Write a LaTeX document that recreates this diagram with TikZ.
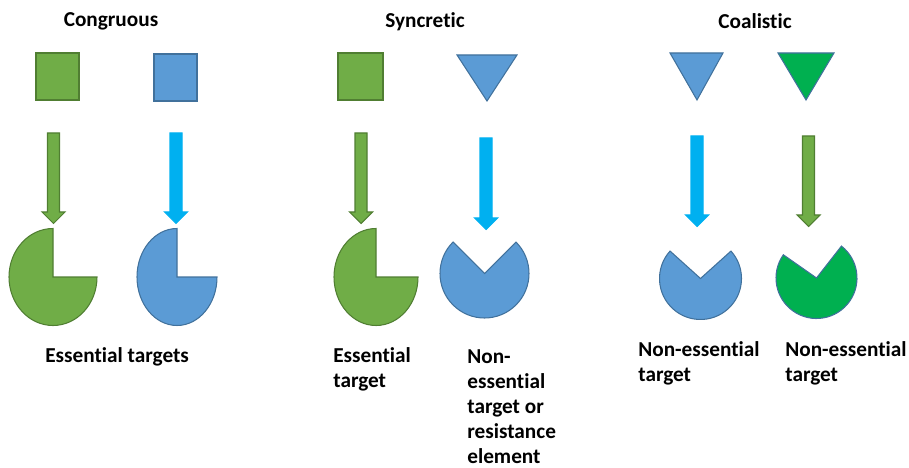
\documentclass[tikz,border=0pt]{standalone}
\usepackage{fontspec}
\setmainfont{Carlito}[Ligatures=NoCommon]

\definecolor{leafgreen}{HTML}{70AD47}
\definecolor{leafedge}{HTML}{507E32}
\definecolor{skyblue}{HTML}{5B9BD5}
\definecolor{skyedge}{HTML}{41719C}
\definecolor{arrowcyan}{HTML}{00B0F0}
\definecolor{jadegreen}{HTML}{00B050}

% block arrow: style, x of centre line, top y, y where the head starts
\newcommand{\blockarrow}[4]{%
    \filldraw[#1] (#2-6,#3) -- (#2+6,#3) -- (#2+6,#4) -- (#2+11.5,#4)
        -- (#2,#4-11.5) -- (#2-11.5,#4) -- (#2-6,#4) -- cycle;
}

\begin{document}
\begin{tikzpicture}[x=0.02cm, y=0.02cm,
    leaf/.style={fill=leafgreen, draw=leafedge, line width=0.6pt},
    sky/.style={fill=skyblue, draw=skyedge, line width=0.6pt},
    jade/.style={fill=jadegreen, draw=skyedge, line width=0.6pt},
    flow/.style={fill=arrowcyan, draw=arrowcyan, line width=0.6pt},
    headtext/.style={font=\fontsize{12.1}{14.2}\selectfont\bfseries, inner sep=0pt, anchor=base},
    targettext/.style={font=\fontsize{12.1}{14.2}\selectfont\bfseries, inner sep=0pt, align=left, anchor=base west}]
    \useasboundingbox (0,0) rectangle (909,467);

    % Titles
    \node[headtext] (congruous) at (111,440) {Congruous};
    \node[headtext] (syncretic) at (425,439) {Syncretic};
    \node[headtext] (coalistic) at (755,438) {Coalistic};

    % Drugs
    \filldraw[leaf] (36,367)  rectangle (79,414);
    \filldraw[sky]  (154,366) rectangle (197,413);
    \filldraw[leaf] (338,367) rectangle (383,414);
    \filldraw[sky]  (457,412) -- (517,412) -- (487,366) -- cycle;
    \filldraw[sky]  (670,414) -- (723,414) -- (697,367) -- cycle;
    \filldraw[jade] (778,414) -- (834,414) -- (806,367) -- cycle;

    % Arrows
    \blockarrow{leaf}{53.5}{334}{255}
    \blockarrow{flow}{176}{334}{255}
    \blockarrow{leaf}{361}{334}{255}
    \blockarrow{flow}{486}{329}{249}
    \blockarrow{flow}{697}{331}{252}
    \blockarrow{leaf}{808.5}{331}{252}

    % Targets
    \filldraw[leaf] (53,190)  -- ++(44,0) arc[start angle=0, end angle=-270, x radius=44, y radius=48.5] -- cycle;
    \filldraw[sky]  (177,190) -- ++(40,0) arc[start angle=0, end angle=-270, x radius=40, y radius=48.5] -- cycle;
    \filldraw[leaf] (376,190) -- ++(42,0) arc[start angle=0, end angle=-270, x radius=42, y radius=48.5] -- cycle;
    \filldraw[sky]  (484.5,193.5) -- ++(135:44.5) arc[start angle=135, end angle=405, radius=44.5] -- cycle;
    \filldraw[sky]  (700.5,188.5) -- ++(138:41) arc[start angle=138, end angle=402, radius=41] -- cycle;
    \filldraw[jade] (816.5,189) -- ++(145:40.5) arc[start angle=145, end angle=412, radius=40.5] -- cycle;

    % Labels (base = last line)
    \node[targettext] (essentialA) at (45,105)  {Essential targets};
    \node[targettext] (essentialB) at (333,80)  {Essential\\target};
    \node[targettext] (nonessA)    at (467,4)   {Non-\\essential\\target or\\resistance\\element};
    \node[targettext] (nonessB)    at (638,86)  {Non-essential\\target};
    \node[targettext] (nonessC)    at (785,86)  {Non-essential\\target};
\end{tikzpicture}
\end{document}
